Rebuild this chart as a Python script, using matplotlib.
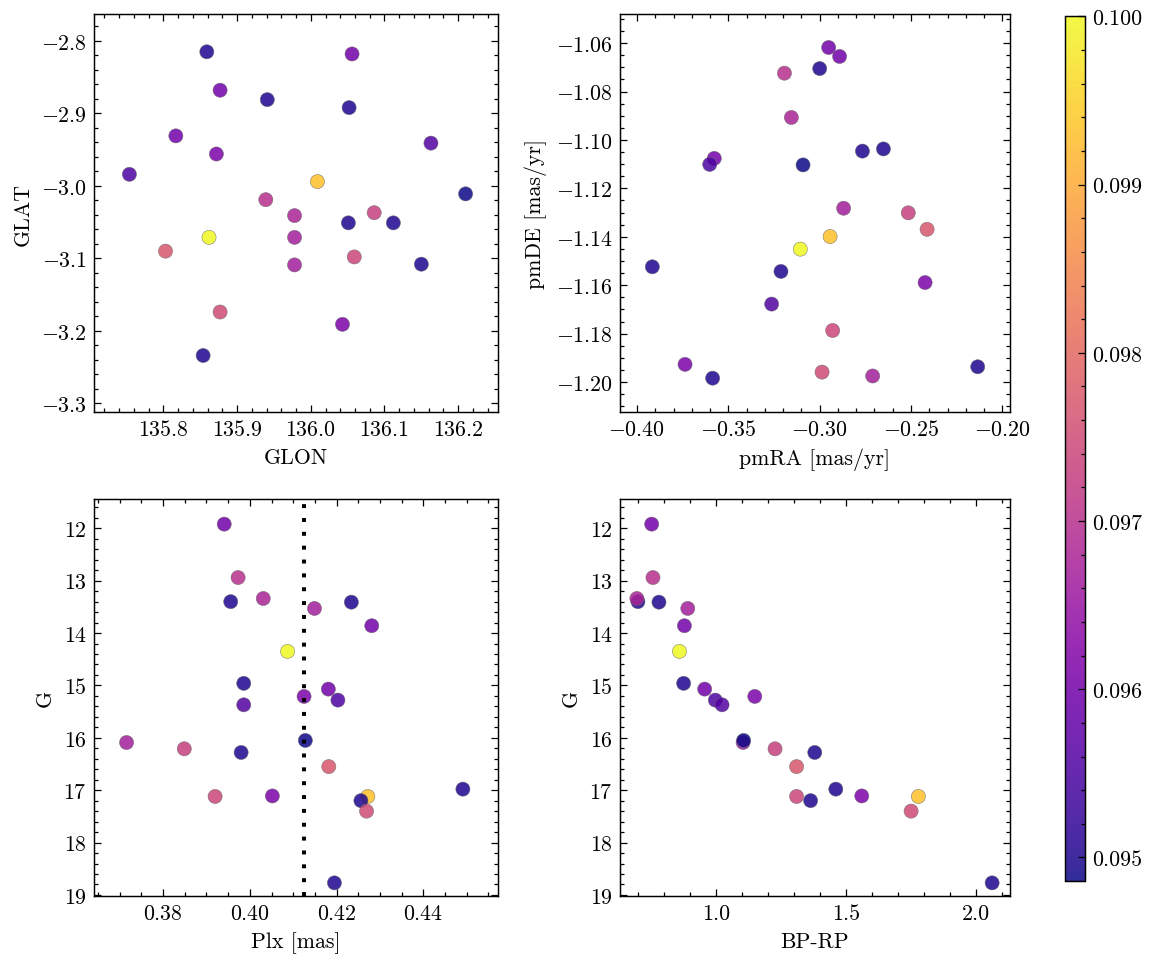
import numpy as np
import matplotlib
matplotlib.use("Agg")
import matplotlib.pyplot as plt
from matplotlib.ticker import MultipleLocator, FormatStrFormatter

# -------------------------
# Data (one entry per star)
# -------------------------
glon = [136.056, 135.939, 135.859, 135.978, 135.978, 135.941, 135.877, 135.862, 136.052, 135.817,
        135.872, 135.754, 136.163, 135.978, 136.086, 136.210, 136.051, 135.803, 136.059, 136.043,
        136.009, 136.112, 135.877, 136.150, 135.854]
glat = [-2.818, -3.019, -2.815, -3.041, -3.071, -2.881, -2.868, -3.071, -2.892, -2.931,
        -2.956, -2.984, -2.941, -3.109, -3.037, -3.011, -3.051, -3.090, -3.098, -3.191,
        -2.994, -3.051, -3.174, -3.108, -3.234]
pmra = [-0.2951, -0.3193, -0.3000, -0.3155, -0.2869, -0.2766, -0.2891, -0.3106, -0.2651, -0.3577,
        -0.2423, -0.3602, -0.3263, -0.2710, -0.2515, -0.3091, -0.3916, -0.2412, -0.2929, -0.3737,
        -0.2943, -0.3212, -0.2987, -0.3586, -0.2135]
pmde = [-1.0618, -1.0724, -1.0705, -1.0907, -1.1282, -1.1046, -1.0655, -1.1451, -1.1037, -1.1076,
        -1.1589, -1.1101, -1.1678, -1.1975, -1.1301, -1.1103, -1.1524, -1.1369, -1.1787, -1.1927,
        -1.1399, -1.1543, -1.1959, -1.1984, -1.1937]
plx = [0.3941, 0.3973, 0.3956, 0.4031, 0.4149, 0.4234, 0.4281, 0.4087, 0.3986, 0.4181,
       0.4125, 0.4203, 0.3986, 0.3716, 0.3849, 0.4128, 0.3980, 0.4182, 0.3920, 0.4052,
       0.4272, 0.4256, 0.4269, 0.4491, 0.4195]
gmag = [11.92, 12.94, 13.40, 13.34, 13.53, 13.41, 13.86, 14.35, 14.96, 15.07,
        15.21, 15.28, 15.37, 16.09, 16.21, 16.05, 16.28, 16.55, 17.12, 17.11,
        17.12, 17.20, 17.40, 16.98, 18.77]
bprp = [0.751, 0.756, 0.698, 0.694, 0.890, 0.779, 0.877, 0.858, 0.874, 0.955,
        1.148, 0.996, 1.022, 1.103, 1.226, 1.105, 1.379, 1.309, 1.309, 1.560,
        1.778, 1.363, 1.750, 1.460, 2.062]
cval = [0.0960, 0.0970, 0.0950, 0.0968, 0.0967, 0.0950, 0.0960, 0.1000, 0.0950, 0.0960,
        0.0961, 0.0955, 0.0956, 0.0967, 0.0973, 0.09486, 0.0950, 0.0977, 0.0974, 0.0961,
        0.0993, 0.0950, 0.0975, 0.0950, 0.0950]

plx_line = 0.4124

# -------------------------
# Style
# -------------------------
plt.rcParams.update({
    "font.family": "serif",
    "font.serif": ["cmr10"],
    "mathtext.fontset": "cm",
    "axes.formatter.use_mathtext": True,
    "axes.unicode_minus": True,
    "font.size": 10.5,
    "axes.linewidth": 0.7,
    "xtick.direction": "in",
    "ytick.direction": "in",
    "xtick.top": True,
    "ytick.right": True,
    "xtick.minor.visible": True,
    "ytick.minor.visible": True,
    "xtick.major.size": 3.5,
    "ytick.major.size": 3.5,
    "xtick.minor.size": 1.8,
    "ytick.minor.size": 1.8,
    "xtick.major.width": 0.6,
    "ytick.major.width": 0.6,
    "xtick.minor.width": 0.6,
    "ytick.minor.width": 0.6,
})

fig = plt.figure(figsize=(7.7, 6.433), dpi=150)
ax1 = fig.add_axes([0.0814, 0.572, 0.3498, 0.4124])
ax2 = fig.add_axes([0.5368, 0.572, 0.3377, 0.4124])
ax3 = fig.add_axes([0.0814, 0.0705, 0.3498, 0.4114])
ax4 = fig.add_axes([0.5368, 0.0705, 0.3377, 0.4114])
cax = fig.add_axes([0.922, 0.086, 0.0173, 0.896])

kw = dict(c=cval, cmap="plasma", vmin=min(cval), vmax=max(cval),
          s=46, alpha=0.85, edgecolors="0.4", linewidths=0.25)

sc = ax1.scatter(glon, glat, **kw)
ax1.set_xlim(135.706, 136.254)
ax1.set_ylim(-3.312, -2.763)
ax1.set_xlabel("GLON")
ax1.set_ylabel("GLAT")

ax2.scatter(pmra, pmde, **kw)
ax2.set_xlim(-0.4093, -0.1958)
ax2.set_ylim(-1.2124, -1.048)
ax2.set_xlabel("pmRA [mas/yr]")
ax2.set_ylabel("pmDE [mas/yr]")

ax3.scatter(plx, gmag, **kw)
ax3.axvline(plx_line, color="k", lw=1.9, linestyle=(0, (1, 2.5)))
ax3.set_xlim(0.3641, 0.4572)
ax3.set_ylim(19.02, 11.44)
ax3.set_xlabel("Plx [mas]")
ax3.set_ylabel("G")

ax4.scatter(bprp, gmag, **kw)
ax4.set_xlim(0.629, 2.131)
ax4.set_ylim(19.02, 11.44)
ax4.xaxis.set_major_locator(MultipleLocator(0.5))
ax4.xaxis.set_major_formatter(FormatStrFormatter("%.1f"))
ax4.set_xlabel("BP-RP")
ax4.set_ylabel("G")

cb = fig.colorbar(sc, cax=cax)
cb.set_ticks([0.095, 0.096, 0.097, 0.098, 0.099, 0.100])
cb.ax.yaxis.set_major_formatter(FormatStrFormatter("%.3f"))
cb.ax.minorticks_on()
cb.ax.tick_params(which="both", direction="in")
cb.outline.set_linewidth(0.7)

fig.savefig("out.png", dpi=150)
plt.close(fig)
